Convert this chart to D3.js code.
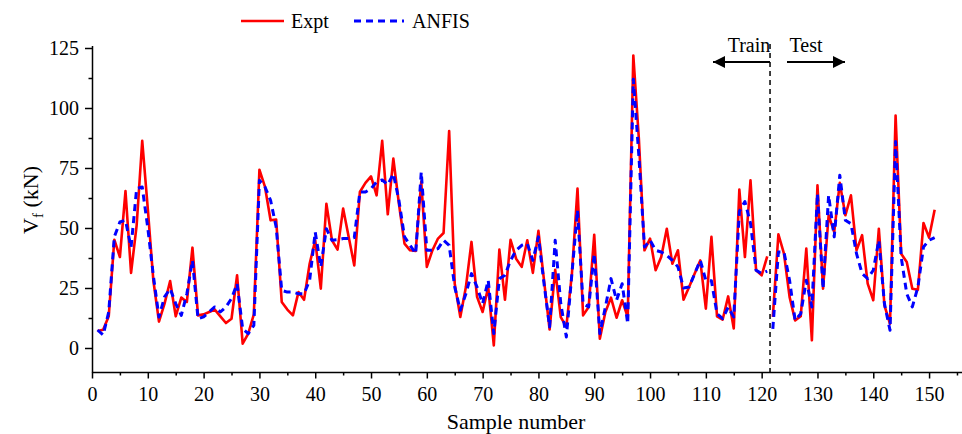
<!DOCTYPE html>
<html>
<head>
<meta charset="utf-8">
<script src="https://cdn.jsdelivr.net/npm/d3@7.9.0/dist/d3.min.js"></script>
<style>
  html, body { margin: 0; padding: 0; background: #fff; }
  svg text { font-family: "Liberation Serif", "Times New Roman", Times, "Noto Serif", "DejaVu Serif", FreeSerif, serif; fill: #000; }
  .domain, .tick line { stroke: #000; stroke-width: 1.5; }
</style>
</head>
<body>
<svg id="chart" width="962" height="434"></svg>
<script>
// sample 1..121 is training, 122..151 is testing
const TRAIN_END = 121;
const SPLIT_AT = 121.5;
const SERIF = '"Liberation Serif", "Times New Roman", Times, "Noto Serif", "DejaVu Serif", FreeSerif, serif';

const expt = [
  7.1, 7.6, 13.2, 45.1, 37.9, 65.4, 31.3, 51.1, 86.3, 58,
  28, 11, 18.5, 27.9, 13.2, 21.0, 19.2, 41.8, 13.6, 14.0,
  15.0, 16.0, 13.2, 10.4, 12.2, 30.3, 1.8, 6.0, 14.0, 74.3,
  67.1, 53.2, 53.5, 19.2, 16.0, 13.6, 23.3, 20.1, 35.1, 44.9,
  24.7, 60.1, 44.9, 41.0, 58.1, 46.3, 34.4, 65.0, 68.8, 71.5,
  63.6, 86.3, 55.7, 78.9, 60.1, 43.5, 40.7, 40.4, 69.2, 33.8,
  40.7, 45.6, 47.9, 90.4, 26.8, 12.9, 25.4, 44.2, 21.3, 15.0,
  25.4, 1.1, 41.0, 20.1, 45.1, 37.2, 33.8, 44.9, 31.3, 48.8,
  28.2, 7.7, 32.6, 12.9, 8.8, 31, 66.4, 13.6, 17.1, 47.2,
  3.9, 15.0, 21.0, 12.6, 19.9, 12.9, 121.9, 87, 40.7, 45.6,
  32.4, 37.9, 49.7, 35.1, 40.7, 20.1, 25.4, 31, 36.5, 16.4,
  46.3, 13.2, 11.8, 21.5, 8.1, 66.0, 37.9, 69.9, 32.4, 30.3,
  38.2, 13, 47.4, 39.3, 21.3, 11.5, 13.2, 41.4, 3.2, 67.8,
  24.7, 55.3, 48.3, 68.8, 55.3, 63.6, 40.7, 47, 26.8, 19.9,
  49.7, 17.8, 10.1, 96.9, 39.3, 35.8, 24.7, 24.3, 52.1, 46,
  57.6
];

const anfis = [
  7.5, 5.4, 15, 46.3, 52.5, 53.2, 42, 66.4, 67.1, 50,
  30, 12.9, 21.3, 24.7, 18.5, 13.6, 22.6, 36.5, 12.2, 13,
  15, 17.1, 15, 17.1, 20.6, 26.8, 8, 6, 9.4, 69.9,
  67.1, 61.5, 50.4, 24, 23.3, 23.3, 22.6, 22.6, 28.2, 48.3,
  33.8, 49.7, 44.9, 45.1, 45.6, 45.6, 46, 65.0, 65.0, 66.4,
  69.2, 70, 68, 72.6, 61.5, 46.3, 42.8, 39.3, 73.3, 40.7,
  40.7, 41.4, 44.9, 42.8, 25.4, 15.7, 22.6, 31, 25.4, 18.5,
  28.2, 6.0, 28.9, 30.3, 36.5, 40.7, 42.8, 43.5, 36.5, 46.3,
  26.8, 8.8, 44.9, 18.5, 4.6, 31, 57.4, 18.5, 17.1, 39.3,
  6.0, 17.1, 28.9, 19.9, 26.8, 10.1, 112, 80, 42.1, 44.9,
  40.7, 40, 38.6, 36.5, 33.8, 25, 25.4, 31, 36.5, 28.2,
  28, 14.3, 12.2, 17, 12.9, 57, 61, 52, 32.4, 31,
  32, 8, 40, 40, 28.2, 11.5, 14.3, 28.2, 17.1, 64.3,
  24.7, 63.6, 46.3, 72, 53.2, 51.8, 39.3, 31, 28.9, 32.4,
  44.9, 18.5, 7.4, 86, 37.9, 22.6, 17.1, 25.4, 42.1, 44.9,
  46
];

const xTicks = d3.range(0, 151, 10);
const xMinorTicks = d3.range(5, 156, 10);
const yTicks = [0, 25, 50, 75, 100, 125];
const yMinorTicks = d3.range(12.5, 125, 25);

const svg = d3.select('#chart').attr('font-family', SERIF);

const x = d3.scaleLinear().domain([0, 155.9]).range([92, 962]);
const y = d3.scaleLinear().domain([-10, 126]).range([372, 45.6]);

// minor ticks first, then major axes on top
svg.append('g')
  .attr('transform', 'translate(0,372)')
  .call(d3.axisBottom(x).tickValues(xMinorTicks).tickSize(3.5).tickFormat(''))
  .call((g) => g.select('.domain').remove());

svg.append('g')
  .attr('transform', 'translate(92,0)')
  .call(d3.axisLeft(y).tickValues(yMinorTicks).tickSize(3.5).tickFormat(''))
  .call((g) => g.select('.domain').remove());

svg.append('g')
  .attr('transform', 'translate(0,372)')
  .call(d3.axisBottom(x).tickValues(xTicks).tickSize(6.5).tickPadding(8).tickSizeOuter(0))
  .attr('font-family', SERIF)
  .attr('font-size', 20)
  .call((g) => g.selectAll('.tick text').attr('dy', '0.74em'));

svg.append('g')
  .attr('transform', 'translate(92,0)')
  .call(d3.axisLeft(y).tickValues(yTicks).tickSize(7).tickPadding(6).tickSizeOuter(0))
  .attr('font-family', SERIF)
  .attr('font-size', 20);

// axis titles
svg.append('text')
  .attr('x', 516)
  .attr('y', 429)
  .attr('text-anchor', 'middle')
  .attr('font-size', 22)
  .text('Sample number');

const yTitle = svg.append('text')
  .attr('transform', 'translate(38,200) rotate(-90)')
  .attr('text-anchor', 'middle')
  .attr('font-size', 22);
yTitle.append('tspan').text('V');
yTitle.append('tspan').attr('font-size', 15).attr('dy', 5).text('f');
yTitle.append('tspan').attr('dy', -5).text(' (kN)');

// train / test split
svg.append('line')
  .attr('x1', x(SPLIT_AT)).attr('x2', x(SPLIT_AT))
  .attr('y1', 44).attr('y2', 372)
  .attr('stroke', '#000')
  .attr('stroke-width', 1.5)
  .attr('stroke-dasharray', '5,4');

svg.append('defs').append('marker')
  .attr('id', 'head')
  .attr('viewBox', '0 0 10 10')
  .attr('refX', 10).attr('refY', 5)
  .attr('markerWidth', 8).attr('markerHeight', 6)
  .attr('markerUnits', 'strokeWidth')
  .attr('orient', 'auto')
  .append('path')
  .attr('d', 'M0,0L10,5L0,10Z')
  .attr('fill', '#000');

svg.append('line')
  .attr('x1', 770).attr('x2', 713)
  .attr('y1', 62).attr('y2', 62)
  .attr('stroke', '#000').attr('stroke-width', 2)
  .attr('marker-end', 'url(#head)');

svg.append('line')
  .attr('x1', 787).attr('x2', 845)
  .attr('y1', 62).attr('y2', 62)
  .attr('stroke', '#000').attr('stroke-width', 2)
  .attr('marker-end', 'url(#head)');

svg.append('text')
  .attr('x', 749).attr('y', 52)
  .attr('text-anchor', 'middle')
  .attr('font-size', 20)
  .text('Train');

svg.append('text')
  .attr('x', 806).attr('y', 52)
  .attr('text-anchor', 'middle')
  .attr('font-size', 20)
  .text('Test');

// series, drawn as separate train and test pieces
const line = d3.line()
  .x((d) => x(d.n))
  .y((d) => y(d.v));

function splitSeries(values) {
  const points = values.map((v, i) => ({ n: i + 1, v }));
  return [points.slice(0, TRAIN_END), points.slice(TRAIN_END)];
}

const series = [
  { name: 'Expt', values: expt, color: '#ff0000', width: 2.6, dash: null },
  { name: 'ANFIS', values: anfis, color: '#0000ff', width: 3, dash: '7,5' },
];

series.forEach((s) => {
  svg.append('g')
    .selectAll('path')
    .data(splitSeries(s.values))
    .join('path')
    .attr('d', line)
    .attr('fill', 'none')
    .attr('stroke', s.color)
    .attr('stroke-width', s.width)
    .attr('stroke-linejoin', 'round')
    .attr('stroke-dasharray', s.dash);
});

// legend
const legend = svg.append('g').attr('font-size', 20);
const legendItems = [
  { s: series[0], x0: 241, x1: 284, tx: 291 },
  { s: series[1], x0: 354, x1: 404, tx: 412 },
];

legendItems.forEach(({ s, x0, x1, tx }) => {
  legend.append('line')
    .attr('x1', x0).attr('x2', x1)
    .attr('y1', 21).attr('y2', 21)
    .attr('stroke', s.color)
    .attr('stroke-width', s.width)
    .attr('stroke-dasharray', s.dash);
  legend.append('text')
    .attr('x', tx).attr('y', 28)
    .text(s.name);
});
</script>
</body>
</html>
